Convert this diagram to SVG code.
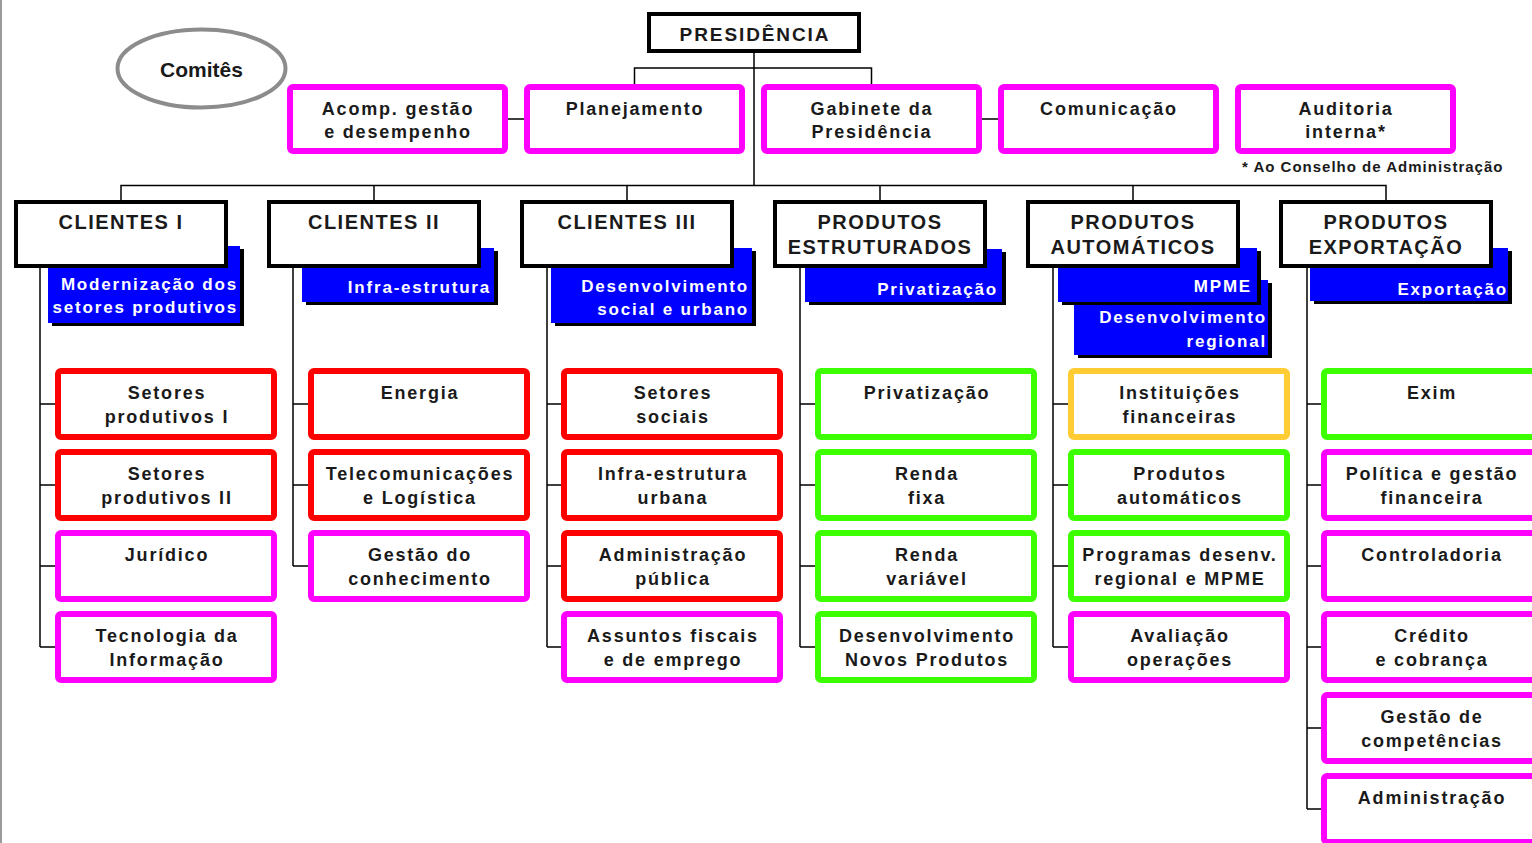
<svg xmlns="http://www.w3.org/2000/svg" width="1532" height="843" viewBox="0 0 1532 843">
<style>
.t{font-family:"Liberation Sans",Arial,sans-serif;font-weight:bold;font-size:18px;letter-spacing:1.8px;text-anchor:middle;fill:#1a1a1a}
.th{font-size:20px;letter-spacing:1.5px}
.tp{font-size:19px;letter-spacing:1.9px}
.tc{font-size:21px;letter-spacing:0}
.tf{font-size:15px;letter-spacing:1px;text-anchor:start}
.tb{font-size:17px;letter-spacing:1.8px;text-anchor:end;fill:#fff}
.ln{stroke:#000;stroke-width:1.5;fill:none}
.hd{fill:#fff;stroke:#000;stroke-width:4}
.mg{fill:#fff;stroke:#ff00ff;stroke-width:6}
.rd{fill:#fff;stroke:#ff0000;stroke-width:6}
.gr{fill:#fff;stroke:#3cff00;stroke-width:6}
.or{fill:#fff;stroke:#ffcc33;stroke-width:6}
.bl{fill:#0000ff}
.sh{fill:#000}
</style>
<rect x="0" y="0" width="1532" height="843" fill="#fff"/>
<line x1="1" y1="0" x2="1" y2="843" stroke="#9a9a9a" stroke-width="2"/>
<g id="connectors" class="ln">
<path d="M754 53V185.5"/>
<path d="M634.5 84V68H871.5V84"/>
<path d="M508 119H524M982 119H998"/>
<path d="M121 200V185.5H1386V200M374 185.5V200M627 185.5V200M880 185.5V200M1133 185.5V200"/>
<path d="M40 268V647M40 404H55M40 485H55M40 566H55M40 647H55"/>
<path d="M293 268V566M293 404H308M293 485H308M293 566H308"/>
<path d="M547 268V647M547 404H561M547 485H561M547 566H561M547 647H561"/>
<path d="M800 268V647M800 404H815M800 485H815M800 566H815M800 647H815"/>
<path d="M1053 268V647M1053 404H1068M1053 485H1068M1053 566H1068M1053 647H1068"/>
<path d="M1307 268V809M1307 404H1321M1307 485H1321M1307 566H1321M1307 647H1321M1307 728H1321M1307 809H1321"/>
</g>
<g id="comites"><ellipse cx="201.5" cy="68.5" rx="84" ry="39" fill="#fff" stroke="#8c8c8c" stroke-width="4"/><text class="t tc" x="201.5" y="77">Comitês</text></g>
<g id="presidencia"><rect class="hd" x="649" y="14" width="210" height="37"/><text class="t tp" x="755" y="41">PRESIDÊNCIA</text></g>
<g id="acomp"><rect class="mg" x="290" y="87" width="215" height="64" rx="3"/><text class="t" x="398" y="115">Acomp. gestão</text><text class="t" x="398" y="138">e desempenho</text></g>
<g id="planejamento"><rect class="mg" x="527" y="87" width="215" height="64" rx="3"/><text class="t" x="635" y="115">Planejamento</text></g>
<g id="gabinete"><rect class="mg" x="764" y="87" width="215" height="64" rx="3"/><text class="t" x="872" y="115">Gabinete da</text><text class="t" x="872" y="138">Presidência</text></g>
<g id="comunicacao"><rect class="mg" x="1001" y="87" width="215" height="64" rx="3"/><text class="t" x="1109" y="115">Comunicação</text></g>
<g id="auditoria"><rect class="mg" x="1238" y="87" width="215" height="64" rx="3"/><text class="t" x="1346" y="115">Auditoria</text><text class="t" x="1346" y="138">interna*</text></g>
<g id="nota"><text class="t tf" x="1242" y="172">* Ao Conselho de Administração</text></g>
<g id="clientes1">
<rect class="sh" x="52" y="249" width="192" height="77"/><rect class="bl" x="48" y="246" width="192" height="77"/>
<text class="t tb" x="238" y="290">Modernização dos</text><text class="t tb" x="238" y="313">setores produtivos</text>
<rect class="hd" x="16" y="202" width="210" height="64"/><text class="t th" x="121" y="229">CLIENTES I</text>
</g>
<g id="clientes2">
<rect class="sh" x="306" y="251" width="192" height="54"/><rect class="bl" x="302" y="248" width="192" height="54"/>
<text class="t tb" x="491" y="293">Infra-estrutura</text>
<rect class="hd" x="269" y="202" width="210" height="64"/><text class="t th" x="374" y="229">CLIENTES II</text>
</g>
<g id="clientes3">
<rect class="sh" x="555" y="251" width="201" height="75"/><rect class="bl" x="551" y="248" width="201" height="75"/>
<text class="t tb" x="749" y="292">Desenvolvimento</text><text class="t tb" x="749" y="315">social e urbano</text>
<rect class="hd" x="522" y="202" width="210" height="64"/><text class="t th" x="627" y="229">CLIENTES III</text>
</g>
<g id="estruturados">
<rect class="sh" x="809" y="252" width="197" height="53"/><rect class="bl" x="805" y="249" width="197" height="53"/>
<text class="t tb" x="998" y="295">Privatização</text>
<rect class="hd" x="775" y="202" width="210" height="64"/><text class="t th" x="880" y="229">PRODUTOS</text><text class="t th" x="880" y="254">ESTRUTURADOS</text>
</g>
<g id="automaticos">
<rect class="sh" x="1078" y="283" width="194" height="75"/><rect class="bl" x="1074" y="280" width="194" height="75"/>
<text class="t tb" x="1267" y="323">Desenvolvimento</text><text class="t tb" x="1267" y="347">regional</text>
<rect class="sh" x="1062" y="251" width="199" height="54"/><rect class="bl" x="1058" y="248" width="199" height="54"/>
<text class="t tb" x="1252" y="292">MPME</text>
<rect class="hd" x="1028" y="202" width="210" height="64"/><text class="t th" x="1133" y="229">PRODUTOS</text><text class="t th" x="1133" y="254">AUTOMÁTICOS</text>
</g>
<g id="exportacao">
<rect class="sh" x="1314" y="251" width="198" height="53"/><rect class="bl" x="1310" y="248" width="198" height="53"/>
<text class="t tb" x="1508" y="295">Exportação</text>
<rect class="hd" x="1281" y="202" width="210" height="64"/><text class="t th" x="1386" y="229">PRODUTOS</text><text class="t th" x="1386" y="254">EXPORTAÇÃO</text>
</g>
<g id="c1-1"><rect class="rd" x="58" y="371" width="216" height="66" rx="3"/><text class="t" x="167" y="399">Setores</text><text class="t" x="167" y="423">produtivos I</text></g>
<g id="c1-2"><rect class="rd" x="58" y="452" width="216" height="66" rx="3"/><text class="t" x="167" y="480">Setores</text><text class="t" x="167" y="504">produtivos II</text></g>
<g id="c1-3"><rect class="mg" x="58" y="533" width="216" height="66" rx="3"/><text class="t" x="167" y="561">Jurídico</text></g>
<g id="c1-4"><rect class="mg" x="58" y="614" width="216" height="66" rx="3"/><text class="t" x="167" y="642">Tecnologia da</text><text class="t" x="167" y="666">Informação</text></g>
<g id="c2-1"><rect class="rd" x="311" y="371" width="216" height="66" rx="3"/><text class="t" x="420" y="399">Energia</text></g>
<g id="c2-2"><rect class="rd" x="311" y="452" width="216" height="66" rx="3"/><text class="t" x="420" y="480">Telecomunicações</text><text class="t" x="420" y="504">e Logística</text></g>
<g id="c2-3"><rect class="mg" x="311" y="533" width="216" height="66" rx="3"/><text class="t" x="420" y="561">Gestão do</text><text class="t" x="420" y="585">conhecimento</text></g>
<g id="c3-1"><rect class="rd" x="564" y="371" width="216" height="66" rx="3"/><text class="t" x="673" y="399">Setores</text><text class="t" x="673" y="423">sociais</text></g>
<g id="c3-2"><rect class="rd" x="564" y="452" width="216" height="66" rx="3"/><text class="t" x="673" y="480">Infra-estrutura</text><text class="t" x="673" y="504">urbana</text></g>
<g id="c3-3"><rect class="rd" x="564" y="533" width="216" height="66" rx="3"/><text class="t" x="673" y="561">Administração</text><text class="t" x="673" y="585">pública</text></g>
<g id="c3-4"><rect class="mg" x="564" y="614" width="216" height="66" rx="3"/><text class="t" x="673" y="642">Assuntos fiscais</text><text class="t" x="673" y="666">e de emprego</text></g>
<g id="c4-1"><rect class="gr" x="818" y="371" width="216" height="66" rx="3"/><text class="t" x="927" y="399">Privatização</text></g>
<g id="c4-2"><rect class="gr" x="818" y="452" width="216" height="66" rx="3"/><text class="t" x="927" y="480">Renda</text><text class="t" x="927" y="504">fixa</text></g>
<g id="c4-3"><rect class="gr" x="818" y="533" width="216" height="66" rx="3"/><text class="t" x="927" y="561">Renda</text><text class="t" x="927" y="585">variável</text></g>
<g id="c4-4"><rect class="gr" x="818" y="614" width="216" height="66" rx="3"/><text class="t" x="927" y="642">Desenvolvimento</text><text class="t" x="927" y="666">Novos Produtos</text></g>
<g id="c5-1"><rect class="or" x="1071" y="371" width="216" height="66" rx="3"/><text class="t" x="1180" y="399">Instituições</text><text class="t" x="1180" y="423">financeiras</text></g>
<g id="c5-2"><rect class="gr" x="1071" y="452" width="216" height="66" rx="3"/><text class="t" x="1180" y="480">Produtos</text><text class="t" x="1180" y="504">automáticos</text></g>
<g id="c5-3"><rect class="gr" x="1071" y="533" width="216" height="66" rx="3"/><text class="t" x="1180" y="561">Programas desenv.</text><text class="t" x="1180" y="585">regional e MPME</text></g>
<g id="c5-4"><rect class="mg" x="1071" y="614" width="216" height="66" rx="3"/><text class="t" x="1180" y="642">Avaliação</text><text class="t" x="1180" y="666">operações</text></g>
<g id="c6-1"><rect class="gr" x="1324" y="371" width="216" height="66" rx="3"/><text class="t" x="1432" y="399">Exim</text></g>
<g id="c6-2"><rect class="mg" x="1324" y="452" width="216" height="66" rx="3"/><text class="t" x="1432" y="480">Política e gestão</text><text class="t" x="1432" y="504">financeira</text></g>
<g id="c6-3"><rect class="mg" x="1324" y="533" width="216" height="66" rx="3"/><text class="t" x="1432" y="561">Controladoria</text></g>
<g id="c6-4"><rect class="mg" x="1324" y="614" width="216" height="66" rx="3"/><text class="t" x="1432" y="642">Crédito</text><text class="t" x="1432" y="666">e cobrança</text></g>
<g id="c6-5"><rect class="mg" x="1324" y="695" width="216" height="66" rx="3"/><text class="t" x="1432" y="723">Gestão de</text><text class="t" x="1432" y="747">competências</text></g>
<g id="c6-6"><rect class="mg" x="1324" y="776" width="216" height="66" rx="3"/><text class="t" x="1432" y="804">Administração</text></g>
</svg>
